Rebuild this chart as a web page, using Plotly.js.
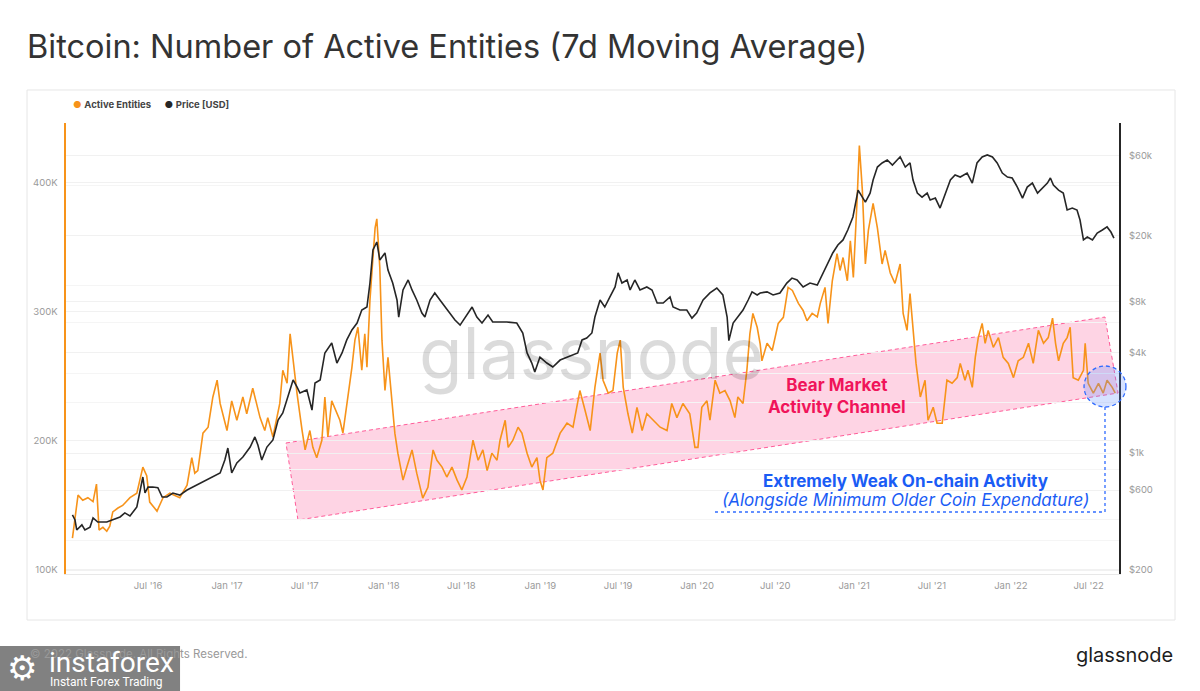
<!DOCTYPE html>
<html>
<head>
<meta charset="utf-8">
<script src="https://cdn.plot.ly/plotly-3.0.1.min.js"></script>
<style>html,body{margin:0;padding:0;background:#fff;}#chart{width:1200px;height:691px;}</style>
</head>
<body>
<div id="chart"></div>
<script>
// Days since 2016-01-01 and Active Entities (thousands)
const aeDays = [6,10,19,30,42,54,62,68,77,86,93,100,112,123,140,156,170,179,186,203,217,233,256,273,284,291,298,310,322,333,343,350,356,366,377,389,403,412,426,443,454,461,473,489,496,506,513,520,529,541,548,559,566,575,587,594,601,610,622,629,636,648,657,664,671,680,687,692,699,706,711,715,722,727,734,741,750,757,764,776,785,797,808,822,834,846,855,867,878,890,902,913,925,939,951,962,972,983,995,1002,1014,1021,1032,1044,1053,1065,1076,1088,1095,1102,1111,1125,1142,1158,1172,1188,1200,1212,1223,1235,1242,1254,1265,1275,1282,1289,1300,1310,1321,1333,1344,1358,1375,1391,1402,1414,1428,1444,1456,1463,1472,1484,1491,1503,1514,1526,1538,1549,1556,1568,1577,1584,1591,1601,1608,1612,1624,1636,1643,1650,1662,1673,1683,1690,1697,1708,1717,1729,1741,1748,1759,1766,1776,1787,1794,1801,1811,1818,1825,1834,1839,1846,1853,1860,1871,1881,1892,1899,1911,1922,1934,1941,1950,1957,1964,1971,1981,1992,1999,2011,2020,2032,2043,2055,2067,2074,2085,2092,2102,2109,2116,2125,2132,2139,2151,2163,2174,2186,2198,2209,2221,2233,2244,2256,2268,2279,2289,2296,2303,2314,2323,2330,2337,2349,2361,2365,2372,2384,2396,2407,2416,2428,2435];
const aeValues = [124.7,135,158,154,156,153,166.5,131,133,130,134,145,148,150,156,159.5,179.7,173,152.6,145.6,156,159.5,156,165.7,187,175,177,206,210.6,233.8,247,229,221,208,231,216,234,221,240.8,218,208,218,203,229,254.7,244.6,283,262,237,208,193,208,195,187,200.5,234,203,231,221,216,206,234,257,278,288,254.7,283,257,309,342,365,372,334,278,239,264.7,231,206,190.5,169.6,179.7,193,175,155.7,164,193,185,179.7,172,179.7,169.6,162,172,200.5,185,193,177,190.5,185,200.5,216,195,200.5,210.6,206,190.5,179.7,187,169.6,162,187,190.5,206,213.7,210.6,239,223.7,208,241.5,268,247,237,239,268,278,241.5,221,206,226,208,221,216,210.6,208,229,218,229,221,195,195,226,231,216,247,237,239,231,218,234,229,254.7,283,298.7,288,275,262,275.6,270,280,291,295.7,318.9,316.5,311,306.5,301,293,298.7,296,306.5,318.9,291,324,345,332,342,324,355,326.6,388.5,428.7,394,337,363,384,365,337,347.5,330,322,337,298.7,285.6,314,285.6,260,234,247,216,226,213.7,213.7,247,244.6,249,260,247,254.7,241.5,264.7,280,291,275.6,285.6,272.5,280,264.7,260,249,262,264.7,275.6,260,285.6,275.6,280,295,275.6,262,275.6,280,288,249,247,254.7,275.6,244.6,237,244.6,237,247,241.5,237];

// Days since 2016-01-01 and BTC price (USD)
const pxDays = [6,12,16,28,35,47,54,65,86,100,117,128,140,156,163,170,175,182,193,205,215,226,240,256,273,287,303,319,333,350,361,368,377,389,403,420,431,438,447,459,473,485,496,508,520,529,536,552,564,571,583,594,610,622,634,645,657,669,680,692,699,706,715,722,734,741,752,762,766,776,788,797,808,820,827,839,850,862,874,885,897,909,920,937,948,960,974,985,1002,1018,1041,1055,1065,1076,1083,1095,1111,1125,1142,1158,1172,1183,1193,1204,1216,1223,1235,1246,1258,1270,1277,1286,1298,1305,1316,1328,1344,1356,1368,1382,1398,1405,1421,1437,1449,1460,1475,1491,1507,1521,1531,1535,1545,1556,1568,1580,1589,1601,1608,1624,1638,1654,1670,1682,1694,1708,1724,1741,1754,1766,1777,1789,1801,1812,1824,1836,1845,1853,1864,1871,1881,1892,1904,1916,1927,1934,1946,1957,1964,1974,1985,1997,2004,2016,2027,2039,2051,2062,2074,2090,2102,2113,2125,2137,2149,2160,2172,2184,2195,2207,2219,2230,2242,2254,2265,2277,2284,2291,2303,2314,2323,2335,2346,2353,2361,2370,2382,2393,2405,2416,2425,2432];
const pxValues = [427,398,347,372,347,361,410,387,387,398,415,439,421,476,577,719,577,626,626,620,546,546,577,561,601,626,662,690,719,760,909,1071,760,873,947,1086,1248,1117,909,1086,1197,1577,1738,2163,2735,2483,2286,2385,1807,2623,2735,3966,4550,3452,3966,4745,5445,5988,7160,7462,10380,16360,18270,14260,15700,12420,10380,8222,6500,9440,10830,9440,8222,6875,6500,8222,9057,8222,7462,6875,6240,5820,6410,7462,6500,5988,6680,6070,6070,6070,5988,5222,3966,3452,3048,3750,3452,3267,3597,3750,3855,3966,4745,4875,5222,6500,8222,7462,8570,9840,11940,10380,10830,9440,10830,9440,9840,9440,7890,7890,8570,7462,7160,7160,6410,6875,8222,9057,9700,8810,6500,4700,5988,6500,7160,8222,9190,8810,9057,9190,8810,9057,10380,11120,10830,9840,10380,10100,11940,13680,15700,17540,18800,21540,25760,37330,33880,31600,35800,42850,51270,54200,56480,52700,56480,58880,51270,54200,42850,35800,33880,35800,32540,33420,29150,35800,42850,45900,44650,47200,41100,54200,58880,60530,58880,54200,47200,44650,44060,38900,33420,38900,41100,35800,38350,41100,44060,40000,37330,35800,28380,29150,28380,24720,18800,19570,18800,20650,21540,22480,20950,19280];

// Axis ticks
const xTickVals = ['2016-07-01','2017-01-01','2017-07-01','2018-01-01','2018-07-01','2019-01-01','2019-07-01','2020-01-01','2020-07-01','2021-01-01','2021-07-01','2022-01-01','2022-07-01'];
const xTickText = ["Jul '16","Jan '17","Jul '17","Jan '18","Jul '18","Jan '19","Jul '19","Jan '20","Jul '20","Jan '21","Jul '21","Jan '22","Jul '22"];
const leftTickVals = [100, 200, 300, 400];
const leftTickText = ['100K', '200K', '300K', '400K'];
const rightTickVals = [200, 600, 1000, 4000, 8000, 20000, 60000];
const rightTickText = ['$200', '$600', '$1k', '$4k', '$8k', '$20k', '$60k'];
const rightMinorVals = [300, 400, 800, 2000, 3000, 6000, 10000, 40000];

function dayToDate(d) {
  return new Date(Date.UTC(2016, 0, 1) + d * 86400000).toISOString().slice(0, 10);
}

const ORANGE = '#f7931a';
const DARK = '#262626';

const traces = [
  {
    x: aeDays.map(dayToDate), y: aeValues, type: 'scatter', mode: 'lines',
    name: 'Active Entities', yaxis: 'y',
    line: {color: ORANGE, width: 1.6}, hoverinfo: 'skip'
  },
  {
    x: pxDays.map(dayToDate), y: pxValues, type: 'scatter', mode: 'lines',
    name: 'Price [USD]', yaxis: 'y2',
    line: {color: DARK, width: 1.6}, hoverinfo: 'skip'
  }
];

const FONT = 'Inter, Roboto, "DejaVu Sans", sans-serif';
const tickFont = {family: FONT, size: 9.5, color: '#9a9a9a'};

const layout = {
  width: 1200, height: 691,
  margin: {l: 66, r: 81, t: 123, b: 117},
  paper_bgcolor: '#ffffff', plot_bgcolor: 'rgba(0,0,0,0)',
  showlegend: false,
  font: {family: FONT, color: '#333'},
  title: {
    text: 'Bitcoin: Number of Active Entities (7d Moving Average)',
    x: 0.0225, xref: 'container', xanchor: 'left',
    y: 0.932, yref: 'container', yanchor: 'middle',
    font: {family: FONT, size: 32.5, color: '#333'}
  },
  xaxis: {
    type: 'date', range: ['2015-12-23', '2022-09-09 19:00'],
    tickvals: xTickVals, ticktext: xTickText,
    showgrid: false, zeroline: false,
    showline: true, linecolor: '#e8e8e8', linewidth: 1,
    ticks: '', ticklabelstandoff: 3, tickfont: tickFont
  },
  yaxis: {
    range: [96.9, 446.2], tickvals: leftTickVals, ticktext: leftTickText,
    showline: true, linecolor: ORANGE, linewidth: 2.5,
    showgrid: true, gridcolor: '#f1f1f1', zeroline: false,
    ticks: '', ticklabelstandoff: 4, tickfont: tickFont
  },
  yaxis2: {
    type: 'log', overlaying: 'y', side: 'right', range: [2.277, 4.973],
    tickvals: rightTickVals, ticktext: rightTickText,
    showline: true, linecolor: DARK, linewidth: 2,
    showgrid: true, gridcolor: '#f1f1f1', zeroline: false,
    ticks: '', ticklabelstandoff: 6, tickfont: tickFont,
    minor: {tickvals: rightMinorVals, showgrid: true, gridcolor: '#f5f5f5', ticks: ''}
  },
  shapes: [
    // card frame
    {type: 'rect', xref: 'paper', yref: 'paper', x0: -0.037, x1: 1.0532, y0: -0.102, y1: 1.0732,
     line: {color: '#e6e6e6', width: 1}, fillcolor: 'rgba(0,0,0,0)', layer: 'below'},
    // Bear market channel
    {type: 'path', xref: 'paper', yref: 'paper', layer: 'below',
     path: 'M 0.2089 0.2905 L 0.9867 0.5698 L 0.9991 0.4013 L 0.2203 0.1197 Z',
     fillcolor: 'rgba(252,160,195,0.45)', line: {color: '#ff5c99', width: 1, dash: '4px,3px'}},
    // blue circle
    {type: 'circle', xref: 'paper', yref: 'paper', layer: 'above',
     x0: 0.9668, x1: 1.0066, y0: 0.3703, y1: 0.4612,
     fillcolor: 'rgba(90,140,255,0.25)', line: {color: '#2f6bff', width: 1.3, dash: '4px,3px'}},
    // dotted guide lines
    {type: 'line', xref: 'paper', yref: 'paper', layer: 'above',
     x0: 0.9867, x1: 0.9867, y0: 0.3703, y1: 0.1375,
     line: {color: '#2f6bff', width: 1.3, dash: '3px,3px'}},
    {type: 'line', xref: 'paper', yref: 'paper', layer: 'above',
     x0: 0.6163, x1: 0.9867, y0: 0.1375, y1: 0.1375,
     line: {color: '#2f6bff', width: 1.3, dash: '3px,3px'}},
    // instaforex badge
    {type: 'rect', xref: 'paper', yref: 'paper', layer: 'above',
     x0: -0.0627, x1: 0.1083, y0: -0.2594, y1: -0.1596,
     fillcolor: 'rgba(112,112,112,0.88)', line: {width: 0}}
  ],
  annotations: [
    // watermark
    {xref: 'paper', yref: 'paper', x: 0.4986, y: 0.49, text: 'glassnode', showarrow: false,
     font: {family: FONT, size: 71, color: 'rgba(0,0,0,0.14)'}, xanchor: 'center', yanchor: 'middle'},
    // legend
    {xref: 'paper', yref: 'paper', x: 0.0047, y: 1.04, xanchor: 'left', yanchor: 'middle', showarrow: false,
     text: '<span style="color:' + ORANGE + '">●</span> <b>Active Entities</b>     <span style="color:' + DARK + '">●</span> <b>Price [USD]</b>',
     font: {family: FONT, size: 9.5, color: '#444'}},
    // channel label
    {xref: 'paper', yref: 'paper', x: 0.7322, y: 0.3936, xanchor: 'center', yanchor: 'middle', showarrow: false,
     text: '<b>Bear Market<br>Activity Channel</b>', font: {family: FONT, size: 17, color: '#f0145a'}},
    // weak activity
    {xref: 'paper', yref: 'paper', x: 0.7972, y: 0.2062, xanchor: 'center', yanchor: 'middle', showarrow: false,
     text: '<b>Extremely Weak On-chain Activity</b>', font: {family: FONT, size: 17, color: '#1a5cf5'}},
    {xref: 'paper', yref: 'paper', x: 0.7977, y: 0.1641, xanchor: 'center', yanchor: 'middle', showarrow: false,
     text: '<i>(Alongside Minimum Older Coin Expendature)</i>', font: {family: FONT, size: 17, color: '#1a5cf5'}},
    // footer
    {xref: 'paper', yref: 'paper', x: -0.0361, y: -0.1774, xanchor: 'left', yanchor: 'middle', showarrow: false,
     text: '© 2022 Glassnode. All Rights Reserved.', font: {family: FONT, size: 11.5, color: '#999'}},
    {xref: 'paper', yref: 'paper', x: 1.0532, y: -0.1796, xanchor: 'right', yanchor: 'middle', showarrow: false,
     text: 'glassnode', font: {family: FONT, size: 20, color: '#1e1e1e'}},
    // instaforex badge text
    {xref: 'paper', yref: 'paper', x: -0.0418, y: -0.2084, xanchor: 'center', yanchor: 'middle', showarrow: false,
     text: '⚙', font: {family: '"DejaVu Sans", sans-serif', size: 34, color: '#ffffff'}},
    {xref: 'paper', yref: 'paper', x: -0.018, y: -0.1973, xanchor: 'left', yanchor: 'middle', showarrow: false,
     text: 'instaforex', font: {family: 'Roboto, "Open Sans", sans-serif', size: 28, color: '#ffffff'}},
    {xref: 'paper', yref: 'paper', x: -0.0171, y: -0.2395, xanchor: 'left', yanchor: 'middle', showarrow: false,
     text: 'Instant Forex Trading', font: {family: 'Roboto, "Open Sans", sans-serif', size: 12, color: '#ffffff'}}
  ]
};

Plotly.newPlot('chart', traces, layout, {displayModeBar: false, staticPlot: true});
</script>
</body>
</html>
